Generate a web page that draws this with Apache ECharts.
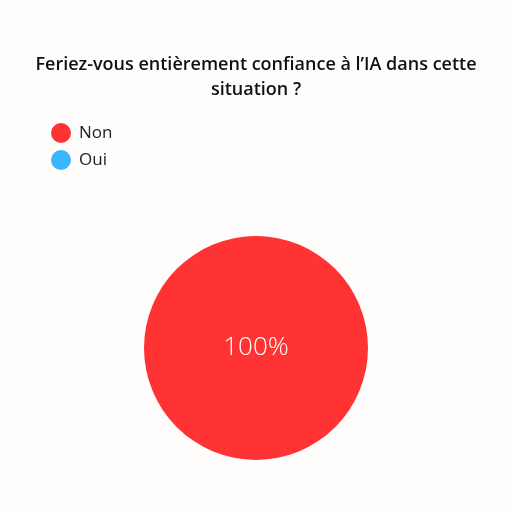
<!DOCTYPE html>
<html><head><meta charset="utf-8">
<script src="https://cdn.jsdelivr.net/npm/echarts@6/dist/echarts.min.js"></script>
<style>html,body{margin:0;padding:0;background:#fffdfc;}#c{width:512px;height:512px;}</style>
</head><body><div id="c"></div>
<script>
const titleText = "Feriez-vous entièrement confiance à l’IA dans cette\nsituation ?";
const categories = ["Non", "Oui"];
const values = [100, 0];
const colors = ["#ff3333", "#38b6ff"];

const chart = echarts.init(document.getElementById('c'), null, {renderer: 'canvas'});
chart.setOption({
  backgroundColor: '#fffdfc',
  animation: false,
  title: {
    text: titleText,
    left: 'center',
    top: 47,
    textStyle: {fontFamily: 'Open Sans', fontSize: 18, fontWeight: 600, color: '#111', lineHeight: 25}
  },
  legend: {
    orient: 'vertical',
    left: 46,
    top: 118,
    icon: 'circle',
    itemWidth: 20,
    itemHeight: 20,
    itemGap: 7,
    data: categories,
    textStyle: {fontFamily: 'Open Sans', fontSize: 17, color: '#222', padding: [0,0,0,3]}
  },
  series: [{
    type: 'pie',
    center: [256, 348],
    radius: [0, 112],
    startAngle: 90,
    stillShowZeroSum: true,
    data: categories.map((c, i) => ({name: c, value: values[i], itemStyle: {color: colors[i]}})),
    label: {
      show: true,
      position: 'center',
      formatter: p => p.value > 0 ? Math.round(p.percent) + '%' : '',
      color: '#fff',
      fontFamily: 'Open Sans',
      fontSize: 26,
      fontWeight: 300
    },
    labelLine: {show: false},
    emphasis: {disabled: true}
  }]
});
</script></body></html>
